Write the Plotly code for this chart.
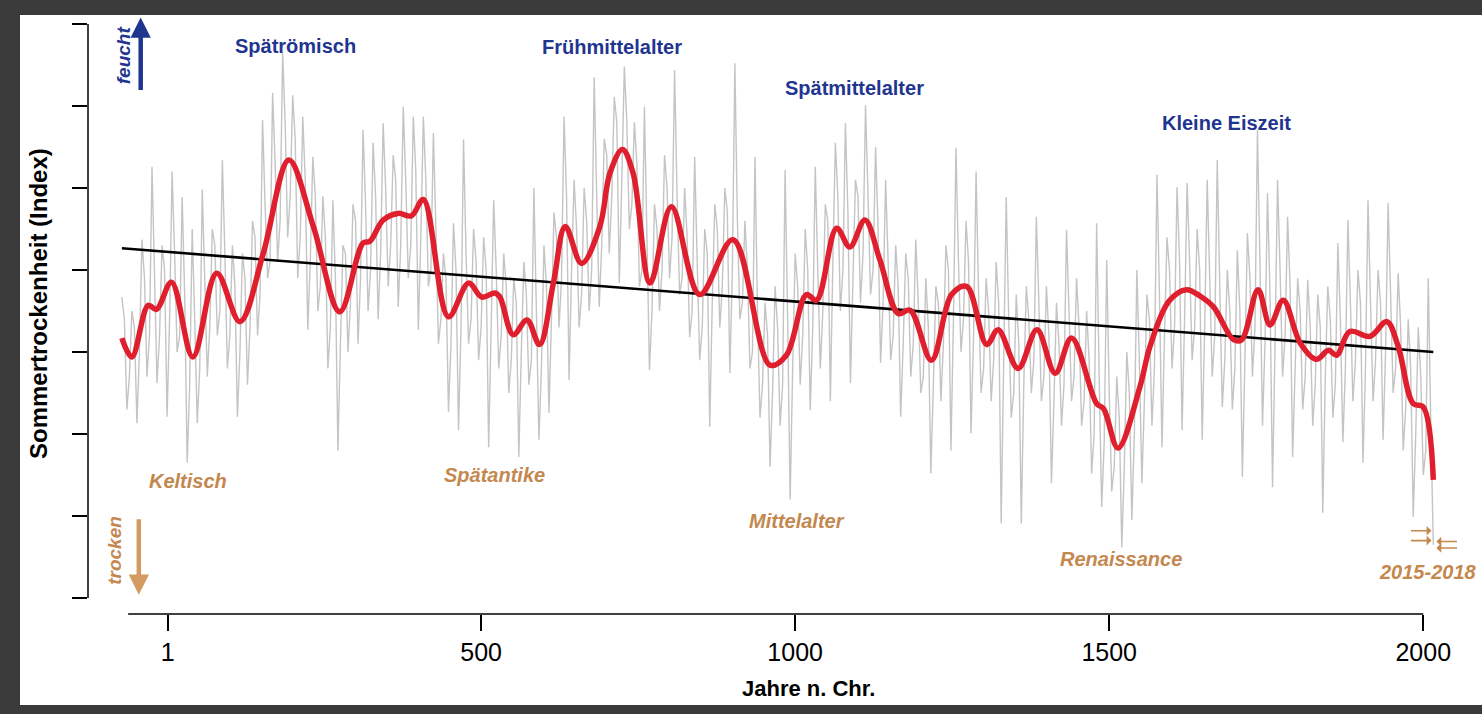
import plotly.graph_objects as go

# ---------------- data (years n. Chr. / index) ----------------
# grey annual series, sampled at the spike positions (every 8 years) ...
gray_years = list(range(-72, 2017, 8))
gray_vals = [
    # -72 .. 120
    0.67, -0.7, 0.5, -0.87, 1.37, -0.3, 2.26, -0.38, 1.3, -0.79, 2.2, 0.0, 1.89,
    -1.35, 1.5, -0.87, 1.98, -0.3, 1.5, 0.2, 2.34, -0.2, 1.3, -0.79, 1.2,
    # 128 .. 320
    -0.4, 1.6, 0.2, 2.83, 0.9, 3.16, 1.1, 3.65, 1.4, 3.13, 0.9, 2.87, 0.27,
    2.38, 0.5, 1.9, -0.2, 1.85, -1.2, 1.3, 0.0, 1.8, 0.1, 2.71, 0.5,
    # 328 .. 520
    2.55, 0.4, 2.79, 0.8, 2.4, 0.55, 2.99, 0.9, 2.87, 0.27, 2.87, 0.8, 2.67,
    0.1, 1.2, -0.73, 1.57, -0.95, 2.59, 0.1, 1.5, -0.1, 1.4, -1.16, 1.85,
    # 528 .. 720
    -0.2, 1.2, -0.5, 0.9, -1.28, 1.1, -0.4, 2.0, -1.07, 1.3, -0.74, 1.7, 0.3,
    2.87, -0.34, 2.1, 0.3, 2.0, 0.5, 3.35, 0.55, 2.6, 1.2, 3.11, 0.84,
    # 728 .. 920
    3.48, 1.5, 2.8, 0.8, 2.99, -0.22, 1.8, 0.5, 2.4, 0.9, 3.44, 0.7, 2.0,
    0.18, 2.38, -0.1, 1.5, -0.91, 1.8, 0.3, 2.0, -0.26, 3.52, 0.4, 1.6,
    # 928 .. 1120
    -0.2, 2.38, -0.8, 0.6, -1.4, 0.8, -0.9, 2.22, -1.8, 1.2, -0.4, 1.5, -0.71,
    2.26, -0.2, 1.8, -0.6, 2.55, 0.5, 2.79, -0.38, 2.1, 0.6, 3.01, 0.7,
    # 1128 .. 1320
    2.5, -0.13, 2.1, -0.1, 1.3, -0.79, 1.2, -0.3, 1.37, -0.5, 0.9, -1.48, 0.8,
    -0.6, 1.3, -1.2, 2.49, 0.0, 1.6, -0.99, 2.2, -0.5, 0.9, -0.6, 1.1,
    # 1328 .. 1520
    -2.09, 1.89, -0.8, 0.7, -2.09, 0.8, -0.5, 1.65, -0.6, 0.8, -1.6, 0.6, -0.9,
    1.49, -0.6, 0.9, -0.9, 0.5, -1.48, 1.57, -1.89, 1.12, -1.7, -0.3, -2.38,
    # 1528 .. 1720
    0.0, -2.05, 1.0, -1.6, 0.7, -0.9, 2.16, -1.16, 1.4, -0.2, 2.01, -0.95, 2.06,
    -0.1, 1.5, -1.07, 2.1, -0.3, 2.34, -0.67, 1.0, -0.7, 1.24, -1.52, 1.45,
    # 1728 .. 1920
    -0.3, 2.71, -0.9, 1.94, -1.65, 2.1, -0.3, 1.65, -1.28, 0.9, -0.7, 0.88, -0.9,
    0.7, -1.96, 0.8, -0.8, 1.33, -1.1, 1.61, -0.6, 1.0, -1.35, 1.85, -0.6,
    # 1928 .. 2016
    1.0, -1.07, 1.82, -0.5, 0.96, -1.2, 0.4, -2.01, 0.3, -1.5, 0.9, -2.35,
]
# ... and the in-between years (core of the grey band)
gray_mid_years = list(range(-68, 2013, 8))
gray_mid_vals = [
    # -68 .. 116
    0.4, -0.3, 0.3, 0.0, 0.9, 0.2, 0.9, 0.2, 1.0, 0.4, 1.2, 0.2, 0.7, -0.4,
    0.4, -0.2, 0.9, 0.3, 1.3, 0.5, 1.2, 0.2, 0.8, 0.0,
    # 124 .. 316
    0.9, 0.3, 1.4, 0.7, 1.8, 1.1, 2.3, 1.6, 2.8, 1.9, 2.6, 1.4, 2.1, 1.1,
    1.9, 0.8, 1.4, 0.3, 0.9, 0.1, 1.2, 0.6, 1.6, 0.9, 1.8,
    # 324 .. 516
    1.0, 1.9, 1.2, 2.0, 1.3, 2.1, 1.3, 2.1, 1.3, 2.2, 1.4, 2.1, 1.0, 1.5,
    0.4, 0.9, 0.1, 1.0, 0.3, 1.2, 0.4, 1.1, 0.3, 1.0, 0.3,
    # 524 .. 716
    1.0, 0.2, 0.8, -0.1, 0.6, 0.0, 0.7, -0.1, 0.5, -0.2, 0.8, 0.4, 1.4, 0.9,
    1.9, 1.0, 1.5, 0.7, 1.6, 1.0, 1.9, 1.3, 2.4, 1.9, 2.8,
    # 724 .. 916
    2.1, 2.8, 1.8, 2.3, 1.0, 1.4, 0.5, 1.5, 1.0, 2.0, 1.4, 1.9, 0.9, 1.4,
    0.5, 1.1, 0.3, 1.2, 0.6, 1.5, 0.8, 1.7, 1.0, 1.6, 0.6,
    # 924 .. 1116
    1.0, 0.0, 0.5, -0.4, 0.2, -0.5, 0.3, -0.4, 0.4, -0.2, 0.8, 0.2, 1.0, 0.3,
    1.0, 0.5, 1.6, 1.1, 1.9, 1.0, 1.7, 0.9, 1.9, 1.2, 1.9,
    # 1124 .. 1316
    1.0, 1.5, 0.6, 1.1, 0.2, 0.8, 0.1, 0.9, 0.1, 0.6, -0.3, 0.3, -0.4, 0.6,
    0.1, 1.0, 0.4, 1.1, 0.4, 1.1, 0.2, 0.7, -0.2, 0.5, -0.1,
    # 1324 .. 1516
    0.6, -0.1, 0.4, -0.5, 0.1, -0.4, 0.4, -0.1, 0.6, -0.3, 0.2, -0.6, 0.1, -0.4,
    0.5, -0.3, 0.3, -0.6, -0.1, -1.0, -0.3, -1.1, -0.5, -1.4, -0.8,
    # 1524 .. 1716
    -1.4, -0.5, -1.0, -0.1, -0.6, 0.4, -0.2, 0.7, 0.2, 1.0, 0.3, 1.1, 0.4, 1.1,
    0.3, 1.0, 0.3, 0.9, 0.2, 0.8, -0.1, 0.5, -0.2, 0.5, -0.1,
    # 1724 .. 1916
    0.9, 0.3, 1.1, 0.1, 0.7, 0.1, 1.0, 0.2, 0.8, -0.2, 0.5, -0.3, 0.3, -0.4,
    0.3, -0.3, 0.4, -0.4, 0.4, -0.2, 0.6, -0.1, 0.6, -0.2, 0.6,
    # 1924 .. 2012
    -0.1, 0.6, 0.0, 0.7, -0.2, 0.3, -0.7, -0.2, -1.0, -0.3, -1.2, -0.9,
]

# smoothed curve (red)
smooth_years = [-72, -56, -30, -17, 7, 41, 79, 116, 153, 194, 233, 275, 312, 323,
                344, 368, 389, 408, 448, 480, 501, 522, 530, 551, 573, 593, 615,
                634, 660, 689, 705, 725, 742, 769, 803, 848, 901, 960, 986, 1018,
                1034, 1066, 1087, 1111, 1135, 1164, 1183, 1217, 1249, 1273, 1305,
                1323, 1355, 1385, 1414, 1440, 1480, 1491, 1514, 1549, 1565, 1595,
                1623, 1645, 1666, 1698, 1711, 1737, 1756, 1777, 1804, 1830, 1849,
                1862, 1883, 1915, 1942, 1960, 1984, 2000, 2016]
smooth_vals = [0.17, -0.06, 0.57, 0.52, 0.85, -0.06, 0.96, 0.37, 1.20, 2.34, 1.53,
               0.49, 1.33, 1.35, 1.61, 1.69, 1.66, 1.86, 0.43, 0.84, 0.67, 0.72,
               0.67, 0.21, 0.39, 0.09, 0.84, 1.53, 1.08, 1.53, 2.18, 2.47, 2.18,
               0.84, 1.77, 0.70, 1.37, -0.16, -0.04, 0.70, 0.63, 1.51, 1.28, 1.61,
               1.12, 0.47, 0.51, -0.10, 0.70, 0.80, 0.09, 0.27, -0.20, 0.27, -0.26,
               0.17, -0.63, -0.69, -1.17, -0.42, 0.07, 0.62, 0.76, 0.68, 0.55, 0.15,
               0.15, 0.76, 0.33, 0.63, 0.11, -0.09, 0.02, -0.04, 0.25, 0.19, 0.37,
               0.07, -0.63, -0.67, -1.56]

# linear trend (black)
trend_years = [-72, 2016]
trend_vals = [1.265, 0.0]

x_ticks = [1, 500, 1000, 1500, 2000]
x_ticktext = ["1", "500", "1000", "1500", "2000"]
y_ticks = [-3, -2, -1, 0, 1, 2, 3, 4]

wet_periods = ["Spätrömisch", "Frühmittelalter", "Spätmittelalter", "Kleine Eiszeit"]
wet_x = [204, 708, 1095, 1686]
wet_y = [3.73, 3.72, 3.22, 2.79]
dry_periods = ["Keltisch", "Spätantike", "Mittelalter", "Renaissance", "2015-2018"]
dry_x = [33, 522, 1003, 1518, 2008]
dry_y = [-1.57, -1.50, -2.06, -2.52, -2.68]

# merge the two grey samplings into one chronological series
pairs = sorted(list(zip(gray_years, gray_vals)) + list(zip(gray_mid_years, gray_mid_vals)))
g_x = [p[0] for p in pairs]
g_y = [p[1] for p in pairs]

# ---------------- figure ----------------
FONT = "Liberation Sans, Arial, Helvetica, sans-serif"
BLUE = "#1f3590"
ORANGE = "#c4884f"

fig = go.Figure()
fig.add_trace(go.Scatter(x=g_x, y=g_y, mode="lines",
                         line=dict(color="#c4c4c4", width=1.4),
                         hoverinfo="skip", showlegend=False))
fig.add_trace(go.Scatter(x=trend_years, y=trend_vals, mode="lines",
                         line=dict(color="black", width=2.6),
                         showlegend=False))
fig.add_trace(go.Scatter(x=smooth_years, y=smooth_vals, mode="lines",
                         line=dict(color="#e01f2e", width=5.5, shape="spline",
                                   smoothing=1.0),
                         showlegend=False))

W, H = 1482, 714
ML, MR, MT, MB = 88, 12, 12, 100
pw, ph = W - ML - MR, H - MT - MB


def px(xpix):
    return (xpix - ML) / pw


def py(ypix):
    return (H - MB - ypix) / ph


shapes = [
    # white page
    dict(type="rect", xref="paper", yref="paper", x0=px(20), x1=px(1482),
         y0=py(705), y1=py(15), fillcolor="white", line=dict(width=0), layer="below"),
    # axis lines (R style, not meeting)
    dict(type="line", xref="x", yref="paper", x0=-62, x1=2000, y0=0, y1=0,
         line=dict(color="black", width=1.5)),
    dict(type="line", xref="paper", yref="y", x0=0, x1=0, y0=-3, y1=4,
         line=dict(color="black", width=1.5)),
]

ann = []
for t, x, y in zip(wet_periods, wet_x, wet_y):
    ann.append(dict(x=x, y=y, xref="x", yref="y", text=f"<b>{t}</b>", showarrow=False,
                    xanchor="center", yanchor="middle",
                    font=dict(family=FONT, size=20, color=BLUE)))
for t, x, y in zip(dry_periods, dry_x, dry_y):
    ann.append(dict(x=x, y=y, xref="x", yref="y", text=f"<b><i>{t}</i></b>", showarrow=False,
                    xanchor="center", yanchor="middle",
                    font=dict(family=FONT, size=20, color=ORANGE)))
# feucht / trocken labels and arrows
ann.append(dict(x=-70, y=3.62, xref="x", yref="y", text="<b><i>feucht</i></b>",
                textangle=-90, showarrow=False, xanchor="center", yanchor="middle",
                font=dict(family=FONT, size=19, color=BLUE)))
ann.append(dict(x=-42, y=4.08, xref="x", yref="y", ax=0, ay=74, text="", showarrow=True,
                arrowhead=2, arrowsize=0.9, arrowwidth=4.5, arrowcolor=BLUE))
ann.append(dict(x=-84, y=-2.42, xref="x", yref="y", text="<b><i>trocken</i></b>",
                textangle=-90, showarrow=False, xanchor="center", yanchor="middle",
                font=dict(family=FONT, size=19, color=ORANGE)))
ann.append(dict(x=-45, y=-2.96, xref="x", yref="y", ax=0, ay=-77, text="", showarrow=True,
                arrowhead=2, arrowsize=0.9, arrowwidth=4.5, arrowcolor="#d39a62"))
# small arrows pointing at 2015-2018
for yy in (-2.18, -2.30):
    ann.append(dict(x=2013, y=yy, xref="x", yref="y", ax=-22, ay=0, text="", showarrow=True,
                    arrowhead=1, arrowsize=1, arrowwidth=1.6, arrowcolor=ORANGE))
for yy in (-2.31, -2.39):
    ann.append(dict(x=2021, y=yy, xref="x", yref="y", ax=22, ay=0, text="", showarrow=True,
                    arrowhead=1, arrowsize=1, arrowwidth=1.6, arrowcolor=ORANGE))
# axis titles
ann.append(dict(x=px(808), y=py(688), xref="paper", yref="paper", text="<b>Jahre n. Chr.</b>",
                showarrow=False, xanchor="center", yanchor="middle",
                font=dict(family=FONT, size=22, color="black")))
ann.append(dict(x=px(38), y=py(304), xref="paper", yref="paper",
                text="<b>Sommertrockenheit (Index)</b>", textangle=-90,
                showarrow=False, xanchor="center", yanchor="middle",
                font=dict(family=FONT, size=24, color="black")))

fig.update_layout(
    width=W, height=H,
    margin=dict(l=ML, r=MR, t=MT, b=MB, pad=0),
    paper_bgcolor="#3b3b3b",
    plot_bgcolor="rgba(0,0,0,0)",
    showlegend=False,
    shapes=shapes,
    annotations=ann,
    xaxis=dict(range=[-125.9, 2074.4], tickvals=x_ticks, ticktext=x_ticktext,
               ticks="outside", ticklen=16, tickwidth=1.5, tickcolor="black",
               showline=False, showgrid=False, zeroline=False,
               tickfont=dict(family=FONT, size=25, color="black")),
    yaxis=dict(range=[-3.195, 4.146], tickvals=y_ticks, showticklabels=False,
               ticks="outside", ticklen=15, tickwidth=1.5, tickcolor="black",
               showline=False, showgrid=False, zeroline=False),
)

fig.write_html("out.html",
               config={"displayModeBar": False},
               post_script="document.body.style.margin='0';"
                           "document.body.style.overflow='hidden';")
